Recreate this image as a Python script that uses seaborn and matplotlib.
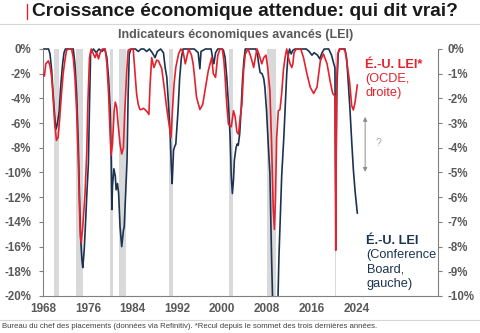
import numpy as np
import pandas as pd
import seaborn as sns
import matplotlib.pyplot as plt
from matplotlib.lines import Line2D
from matplotlib.patches import Rectangle

# ---------------- data ----------------
cb_year = [1968.0, 1968.5, 1969.0, 1969.25, 1969.55, 1969.8, 1970.1, 1970.3, 1970.55, 1970.9,
           1971.15, 1971.5, 1971.75, 1972.0, 1972.5, 1973.0, 1973.4, 1973.7, 1974.0, 1974.3,
           1974.5, 1974.7, 1974.95, 1975.1, 1975.35, 1975.6, 1975.85, 1976.1, 1976.3, 1976.5,
           1977.0, 1977.5, 1978.0, 1978.5, 1979.0, 1979.2, 1979.4, 1979.7, 1980.0, 1980.15,
           1980.3, 1980.4, 1980.65, 1980.9, 1981.05, 1981.3, 1981.5, 1981.75, 1982.05, 1982.35,
           1982.5, 1982.75, 1983.0, 1983.2, 1983.4, 1983.7, 1984.5, 1985.0, 1985.5, 1986.0,
           1986.5, 1987.0, 1987.5, 1988.0, 1988.4, 1989.0, 1989.5, 1989.8, 1990.1, 1990.4,
           1990.7, 1990.9, 1991.05, 1991.3, 1991.5, 1991.7, 1992.1, 1992.4, 1992.7, 1993.0,
           1994.0, 1995.0, 1995.7, 1996.0, 1996.2, 1997.0, 1998.0, 1998.3, 1998.5, 1998.8,
           1999.2, 2000.0, 2000.2, 2000.5, 2000.8, 2001.1, 2001.4, 2001.6, 2001.8, 2002.0,
           2002.15, 2002.3, 2002.45, 2002.65, 2002.85, 2003.1, 2003.35, 2003.6, 2003.85, 2004.1,
           2005.0, 2006.0, 2006.3, 2006.5, 2006.75, 2007.1, 2007.4, 2007.6, 2007.9, 2008.2,
           2008.5, 2008.8, 2009.1, 2009.5, 2009.9, 2010.1, 2010.3, 2010.6, 2011.0, 2011.3,
           2011.5, 2011.7, 2012.0, 2012.3, 2012.6, 2013.0, 2014.0, 2015.0, 2015.5, 2016.0,
           2016.4, 2017.0, 2017.4, 2017.8, 2018.2, 2019.0, 2019.5, 2019.9, 2020.1, 2020.25,
           2020.45, 2020.7, 2021.0, 2021.9, 2022.2, 2022.5, 2022.8, 2023.1, 2023.4, 2023.7,
           2024.0, 2024.1]
cb_val = [0, 0, 0, -0.4, -1.75, -3.6, -5.5, -6.5, -6.1, -5.0,
          -3.1, -1.2, -0.3, 0, 0, 0, 0, -1.2, -3.6, -7.7,
          -11.7, -15.2, -17.1, -17.7, -16.3, -14.0, -11.5, -9.3, -4.5, -0.3,
          0, -0.3, 0, -0.2, 0, -0.3, -0.7, -2.3, -5.0, -8.2,
          -13.0, -11.1, -9.7, -10.3, -11.4, -10.9, -11.7, -14.4, -16.0, -14.7,
          -14.4, -11.7, -9.0, -3.6, -0.4, 0, 0, -0.2, 0, 0,
          -0.2, 0, -0.3, -0.7, -0.2, 0, -0.3, -1.5, -2.3, -4.5,
          -6.9, -9.5, -10.9, -8.2, -7.9, -7.7, -5.0, -2.3, -0.7, 0,
          0, 0, -0.3, -1.6, -0.2, 0, 0, -0.8, -1.2, -0.3,
          0, 0, -0.1, -0.7, -2.3, -4.5, -7.15, -10.3, -11.7, -10.6,
          -9.0, -8.5, -8.0, -7.7, -7.8, -6.9, -5.0, -2.6, -0.95, 0,
          0, 0, -0.5, -1.2, -1.9, -2.0, -2.4, -3.1, -5.0, -7.7,
          -10.1, -17.0, -22.5, -23.0, -21.0, -17.0, -14.4, -10.3, -7.0, -4.0,
          -2.0, -0.7, 0, -0.4, -0.1, 0, 0, 0, -0.2, -0.5,
          -0.3, -0.5, -0.8, -0.3, 0, 0, -0.5, -1.2, -1.5, -11.5,
          -3.0, -0.3, 0, 0, -0.8, -2.8, -5.0, -7.5, -9.8, -11.5,
          -12.8, -13.3]

oecd_year = [1968.0, 1968.25, 1968.5, 1968.95, 1969.25, 1969.55, 1969.8, 1970.1, 1970.4, 1970.7,
             1971.0, 1971.3, 1971.6, 1971.9, 1972.2, 1972.6, 1973.1, 1973.4, 1973.7, 1974.0,
             1974.3, 1974.6, 1974.8, 1975.1, 1975.5, 1975.8, 1976.0, 1976.3, 1976.6, 1977.0,
             1977.3, 1977.6, 1977.9, 1978.2, 1978.6, 1979.1, 1979.4, 1979.7, 1980.0, 1980.15,
             1980.4, 1980.7, 1980.9, 1981.15, 1981.45, 1981.75, 1982.05, 1982.35, 1982.6, 1982.95,
             1983.2, 1983.6, 1984.1, 1984.4, 1984.7, 1985.0, 1985.3, 1985.6, 1985.9, 1986.2,
             1986.6, 1986.9, 1987.1, 1987.4, 1987.8, 1988.3, 1988.6, 1989.2, 1989.6, 1990.0,
             1990.4, 1990.85, 1991.1, 1991.4, 1991.7, 1992.2, 1992.6, 1993.0, 1993.4, 1993.7,
             1994.0, 1994.5, 1994.8, 1995.1, 1995.4, 1996.0, 1996.5, 1996.9, 1997.5, 1998.1,
             1998.4, 1998.8, 1999.2, 1999.6, 2000.0, 2000.3, 2000.5, 2000.8, 2001.1, 2001.6,
             2002.0, 2002.3, 2002.6, 2002.9, 2003.2, 2003.5, 2003.8, 2004.1, 2004.6, 2005.0,
             2005.3, 2005.6, 2005.9, 2006.2, 2006.6, 2007.05, 2007.4, 2007.8, 2008.1, 2008.5,
             2008.8, 2009.1, 2009.3, 2009.5, 2009.7, 2010.0, 2010.3, 2010.6, 2010.9, 2011.2,
             2011.5, 2011.8, 2012.1, 2012.4, 2012.6, 2012.8, 2013.2, 2014.0, 2014.5, 2015.1,
             2015.7, 2016.3, 2016.9, 2017.2, 2017.5, 2018.05, 2018.7, 2019.25, 2019.7, 2020.1,
             2020.25, 2020.4, 2020.6, 2020.9, 2021.5, 2021.9, 2022.2, 2022.7, 2023.1, 2023.4,
             2023.7, 2024.1]
oecd_val = [-1.0, -1.1, -0.6, -0.48, -0.68, -1.15, -1.95, -3.05, -3.7, -3.58,
            -2.75, -1.8, -1.0, -0.48, -0.05, 0, 0, -0.35, -1.15, -2.5,
            -4.5, -7.2, -7.85, -7.2, -5.85, -4.25, -2.25, -0.35, 0, -0.2,
            -0.35, -0.15, -0.4, -0.15, 0, 0, -0.6, -1.8, -3.58, -4.3,
            -3.85, -2.5, -2.15, -2.35, -3.15, -3.85, -4.25, -4.0, -2.5, -0.88,
            -0.05, 0, 0, -0.88, -1.8, -2.25, -2.45, -2.45, -2.4, -2.45,
            -2.55, -2.65, -1.5, -0.35, -0.75, -0.45, -0.48, -0.8, -1.5, -2.25,
            -2.9, -3.58, -2.5, -1.4, -0.75, -0.2, 0, -0.1, -0.6, -0.3,
            0, -0.25, -0.6, -1.25, -1.95, -2.45, -2.25, -1.7, -0.88, -0.35,
            -1.0, -1.15, -0.25, 0, 0, -0.5, -1.15, -2.25, -3.05, -3.15,
            -2.5, -2.75, -3.35, -3.45, -2.75, -2.25, -0.88, -0.2, 0, -0.25,
            -0.48, -0.75, -0.35, 0, -0.25, -0.6, -0.35, -0.25, -0.75, -1.7,
            -3.85, -6.5, -7.3, -6.0, -3.58, -2.5, -2.45, -1.8, -0.88, -0.35,
            0, -0.35, -0.6, -0.75, -0.6, -0.15, 0, 0, -0.35, -1.0,
            -1.55, -1.8, -1.55, -1.0, -0.48, -0.2, -0.6, -1.3, -1.8, -1.9,
            -8.15, -1.5, -0.2, 0, 0, -0.05, -0.48, -1.3, -2.3, -2.47,
            -2.15, -1.45]

recessions = [(1969.92, 1970.85), (1973.85, 1975.2), (1980.0, 1980.5), (1981.5, 1982.85),
              (1990.55, 1991.2), (2001.15, 2001.85), (2007.9, 2009.5), (2020.1, 2020.35)]

x_ticks = [1968, 1976, 1984, 1992, 2000, 2008, 2016, 2024]
left_ticks = list(range(-20, 1, 2))
right_ticks = list(range(-10, 1, 1))

title = "Croissance économique attendue: qui dit vrai?"
subtitle = "Indicateurs économiques avancés (LEI)"
footer = ("Bureau du chef des placements (données via Refinitiv). "
          "*Recul depuis le sommet des trois dernières années.")

# ---------------- style ----------------
NAVY = "#1b3350"
RED = "#e2232d"
GREY = "#595959"

sns.set_theme(style="white")
plt.rcParams['font.family'] = ['Liberation Sans', 'DejaVu Sans']

W, H = 480, 333
fig = plt.figure(figsize=(W / 100, H / 100), dpi=100)

def fx(px):
    return px / W

def fy(py):
    return 1 - py / H

ax = fig.add_axes([fx(43), fy(296), (438 - 43) / W, (296 - 49) / H])
ax2 = ax.twinx()

for a, b in recessions:
    ax.axvspan(a, b, color="#d9d9d9", lw=0, zorder=0)

df_cb = pd.DataFrame({"year": cb_year, "val": cb_val})
df_oecd = pd.DataFrame({"year": oecd_year, "val": oecd_val})

sns.lineplot(data=df_cb, x="year", y="val", ax=ax, color=NAVY, lw=1.2, estimator=None)
sns.lineplot(data=df_oecd, x="year", y="val", ax=ax2, color=RED, lw=1.2, estimator=None)

ax.set_xlim(1968, 2038.5)
ax.set_ylim(-20, 0)
ax2.set_ylim(-10, 0)

for a_ in (ax, ax2):
    for ln in a_.get_lines():
        r = Rectangle((0, 0), 1, 1.012, transform=a_.transAxes)
        ln.set_clip_path(r)

ax.set_xlabel("")
ax.set_ylabel("")
ax2.set_ylabel("")

ax.set_xticks(x_ticks)
ax.set_xticklabels([str(t) for t in x_ticks], fontweight="bold", fontsize=8.5, color=GREY)
ax.set_yticks(left_ticks)
ax.set_yticklabels([f"{t}%" for t in left_ticks], fontweight="bold", fontsize=8.3, color=GREY)
ax2.set_yticks(right_ticks)
ax2.set_yticklabels([f"{t}%" for t in right_ticks], fontweight="bold", fontsize=8.3, color=GREY)

ax.tick_params(axis="y", length=3, width=0.8, color="#808080", pad=5.5, left=True)
ax.tick_params(axis="x", length=0, pad=5)
ax2.tick_params(axis="y", length=3, width=0.8, color="#808080", pad=3.5, right=True)

for s in ["top", "right"]:
    ax.spines[s].set_visible(False)
for s in ["top", "left", "bottom"]:
    ax2.spines[s].set_visible(False)
for sp in (ax.spines["left"], ax.spines["bottom"], ax2.spines["right"]):
    sp.set_color("#808080")
    sp.set_linewidth(0.8)

# double arrow and question mark
ax.annotate("", xy=(2025.5, -5.5), xytext=(2025.5, -9.95),
            arrowprops=dict(arrowstyle="<|-|>", color="#8c8c8c", lw=0.7,
                            mutation_scale=6, shrinkA=0, shrinkB=0))
ax.text(2027.3, -7.6, "?", color="#a6a6a6", fontsize=7.5, ha="left", va="center")

# series labels
fig.text(fx(365), fy(65), "É.-U. LEI*", color=RED, fontsize=9.2, fontweight="bold", va="center")
fig.text(fx(365), fy(79), "(OCDE,", color=RED, fontsize=9.2, va="center")
fig.text(fx(365), fy(93), "droite)", color=RED, fontsize=9.2, va="center")

fig.text(fx(366.5), fy(241), "É.-U. LEI", color=NAVY, fontsize=9.2, fontweight="bold", va="center")
fig.text(fx(366.5), fy(255), "(Conference", color=NAVY, fontsize=9.2, va="center")
fig.text(fx(366.5), fy(269), "Board,", color=NAVY, fontsize=9.2, va="center")
fig.text(fx(366.5), fy(283.5), "gauche)", color=NAVY, fontsize=9.2, va="center")

# title block
fig.add_artist(Line2D([fx(27), fx(27)], [fy(4), fy(18.5)], color=RED, lw=1.0))
fig.text(fx(32.5), fy(11), title, fontsize=13.8, fontweight="bold", color="#1a1a1a", va="center")
fig.add_artist(Line2D([0, 1], [fy(23.5), fy(23.5)], color="#d6d6d6", lw=0.8))
fig.text(fx(236), fy(35), subtitle, fontsize=9, fontweight="bold", color=GREY,
         ha="center", va="center")

# footer
fig.add_artist(Line2D([0, 1], [fy(319.5), fy(319.5)], color="#d6d6d6", lw=0.8))
fig.text(fx(2), fy(326.5), footer, fontsize=5.6, color="#404040", va="center")

fig.savefig("out.png", dpi=100)
